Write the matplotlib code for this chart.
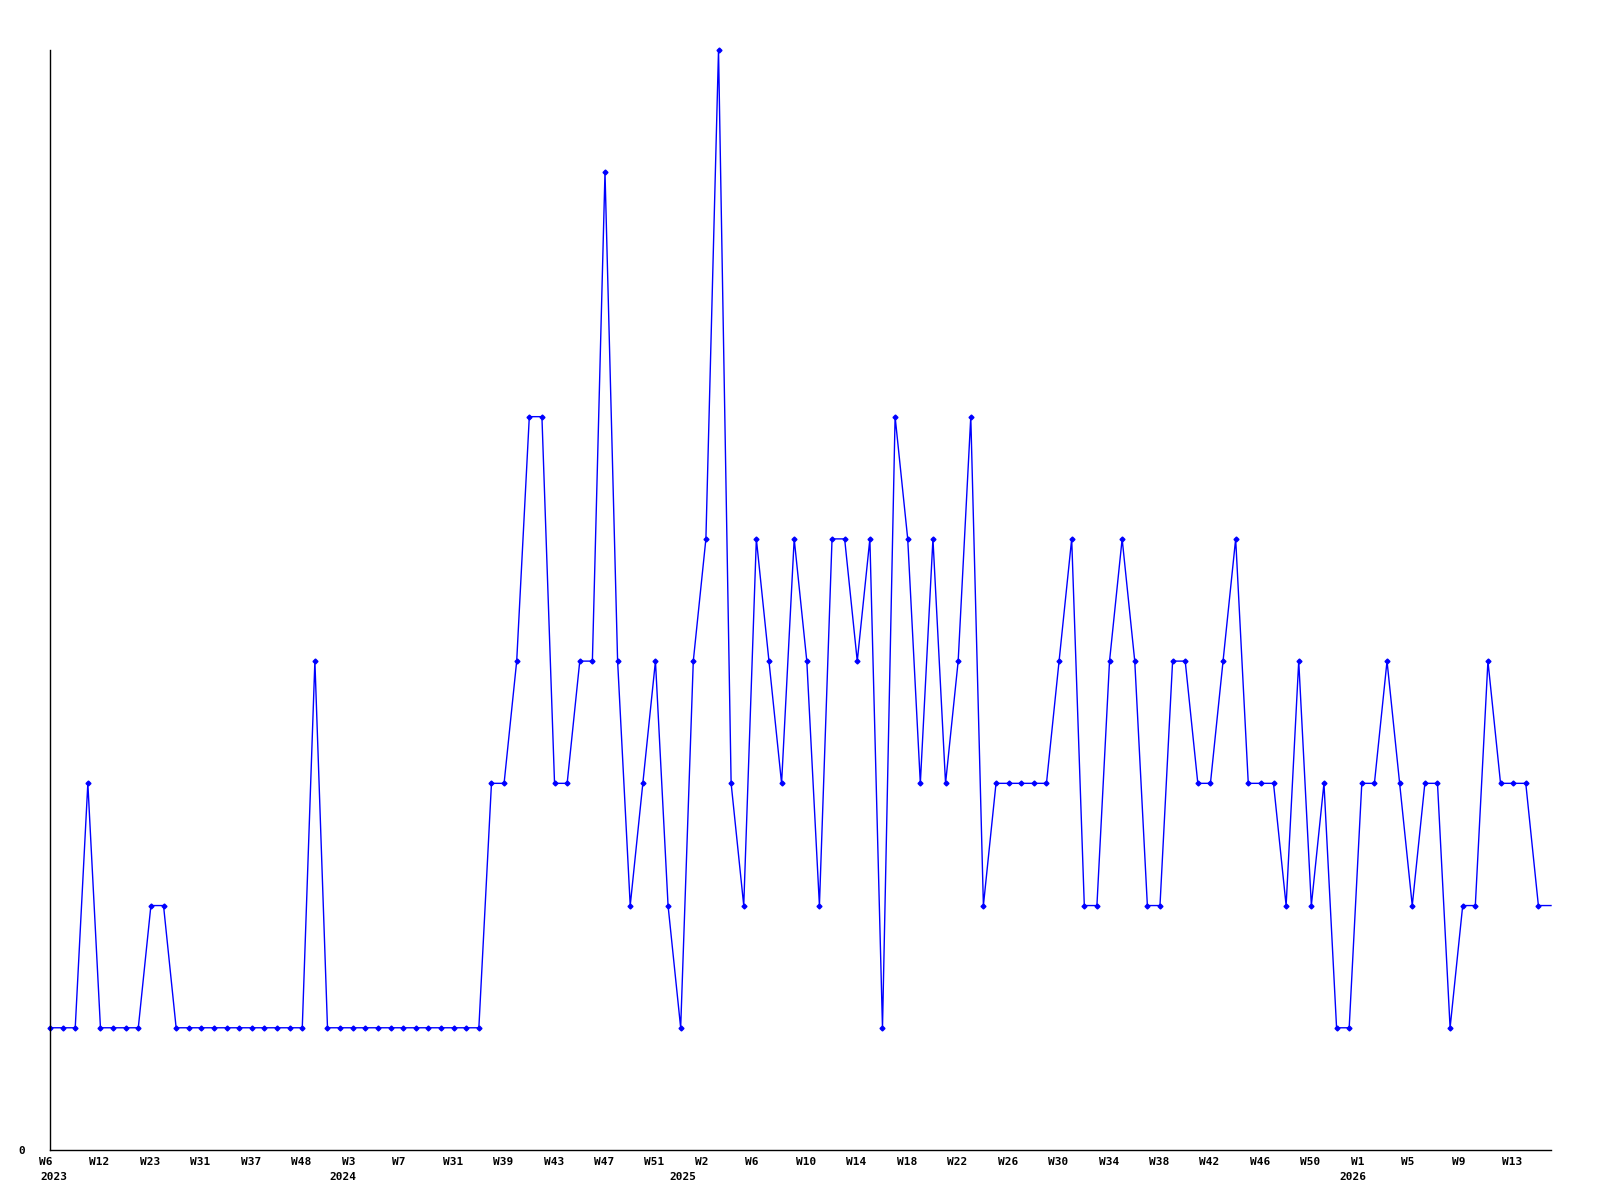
import matplotlib
matplotlib.use("Agg")
import matplotlib.pyplot as plt
import matplotlib.transforms as mtransforms

# ---- data ----
values = [1, 1, 1, 3, 1, 1, 1, 1, 2, 2,
          1, 1, 1, 1, 1, 1, 1, 1, 1, 1,
          1, 4, 1, 1, 1, 1, 1, 1, 1, 1,
          1, 1, 1, 1, 1, 3, 3, 4, 6, 6,
          3, 3, 4, 4, 8, 4, 2, 3, 4, 2,
          1, 4, 5, 9, 3, 2, 5, 4, 3, 5,
          4, 2, 5, 5, 4, 5, 1, 6, 5, 3,
          5, 3, 4, 6, 2, 3, 3, 3, 3, 3,
          4, 5, 2, 2, 4, 5, 4, 2, 2, 4,
          4, 3, 3, 4, 5, 3, 3, 3, 2, 4,
          2, 3, 1, 1, 3, 3, 4, 3, 2, 3,
          3, 1, 2, 2, 4, 3, 3, 3, 2, 2]

week_labels = ["W6", "W12", "W23", "W31", "W37", "W48", "W3", "W7", "W31", "W39",
               "W43", "W47", "W51", "W2", "W6", "W10", "W14", "W18", "W22", "W26",
               "W30", "W34", "W38", "W42", "W46", "W50", "W1", "W5", "W9", "W13"]

year_labels = ["2023", "2024", "2025", "2026"]
year_label_pos = [0.3, 23.2, 50.2, 103.3]

# ---- figure ----
fig = plt.figure(figsize=(16, 12), dpi=100)
ax = fig.add_axes([50 / 1600, 50 / 1200, 1501 / 1600, 1100 / 1200])

x = list(range(len(values)))
ax.plot(x, values, color="#0000ff", lw=1.0, marker="D", ms=2.5,
        markevery=slice(0, len(values) - 1), clip_on=False)

ax.set_xlim(0, len(values) - 1)
ax.set_ylim(0, max(values))

for s in ["top", "right"]:
    ax.spines[s].set_visible(False)
for s in ["left", "bottom"]:
    ax.spines[s].set_color("black")
    ax.spines[s].set_linewidth(1.0)

font = dict(family="DejaVu Sans Mono", weight="bold", size=8)

tick_pos = list(range(0, len(values), 4))[:len(week_labels)]
ax.set_xticks(tick_pos)
ax.set_xticklabels(week_labels, ha="left", **font)
ax.tick_params(axis="x", length=0, pad=5)
offset = mtransforms.ScaledTranslation(-11 / 100, 0, fig.dpi_scale_trans)
for lbl in ax.get_xticklabels():
    lbl.set_transform(lbl.get_transform() + offset)

ax.set_yticks([0])
ax.set_yticklabels(["0"], **font)
ax.tick_params(axis="y", length=0, pad=18)

for yl, pos in zip(year_labels, year_label_pos):
    ax.annotate(yl, xy=(pos, 0), xycoords=("data", "axes fraction"),
                xytext=(0, -27 * 0.72), textcoords="offset points",
                ha="center", va="center", **font)

fig.savefig("out.png", dpi=100)
